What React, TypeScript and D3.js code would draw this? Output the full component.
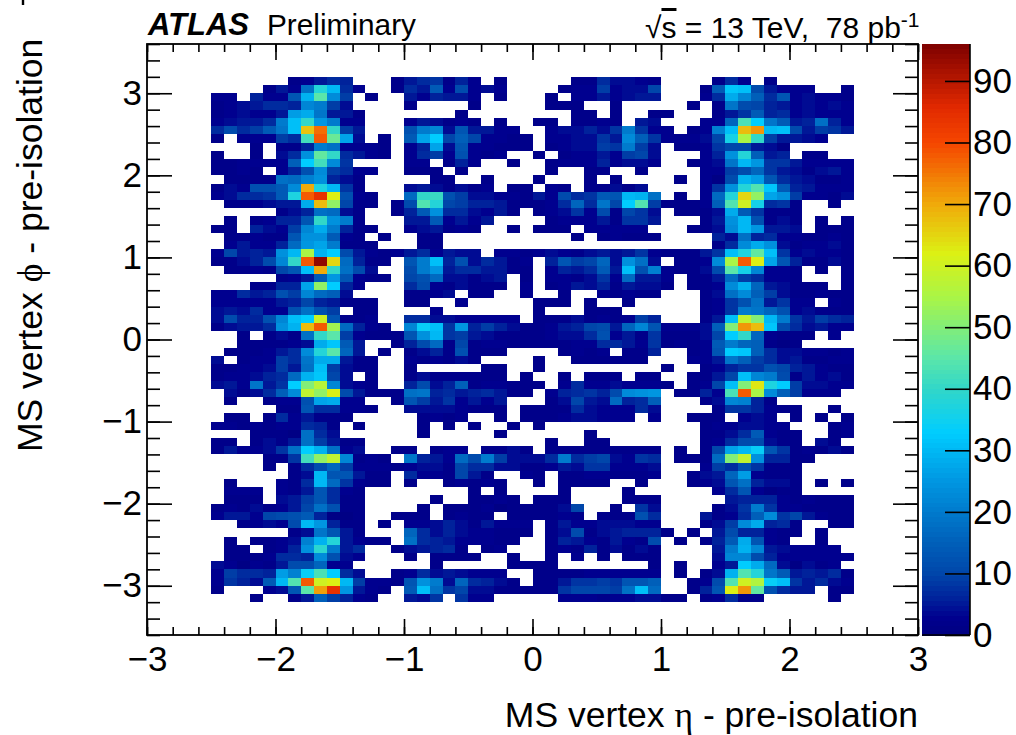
import * as d3 from "d3";
import {useEffect, useRef} from "react";

// event counts per bin, first row is the top one (phi 3.1..3.2), 50 eta bins per row, 0 = empty bin
const counts: number[][] = [
    [0,0,0,0,0,0,2,3,5,7,6,0,0,0,2, 5,7,8,2,6,3,0,2,0,0,0,0,0,2,2,7,4,4,3,2, 0,0,0,0,2,7,3,0,2,0,0,0,0,0,0],
    [0,0,0,0,2,5,3,18,38,30,7,3,0,0,2, 7,5,14,3,11,3,4,3,0,0,0,0,2,3,3,9,3,4,4,10, 0,0,0,2,14,32,31,11,5,3,3,3,0,0,2],
    [3,3,0,6,3,3,13,29,45,23,9,0,2,0,0, 5,3,6,5,5,3,0,2,0,0,0,2,0,3,3,5,3,4,5,5, 0,0,0,3,7,28,22,15,7,13,3,4,3,3,2],
    [2,3,4,5,7,7,6,22,20,9,4,0,0,0,0, 2,0,0,0,0,2,0,0,0,0,0,2,2,2,0,0,2,0,0,0, 0,0,2,0,2,19,11,10,6,5,3,4,3,4,3],
    [2,3,4,3,3,5,26,28,19,5,5,2,0,0,0, 0,0,0,0,2,0,0,0,0,0,0,0,0,2,2,0,2,0,0,2, 2,0,0,0,2,5,8,14,6,7,3,4,3,3,3],
    [3,4,5,5,7,20,31,40,25,20,3,3,0,0,0, 3,5,4,2,3,2,0,2,0,0,2,2,0,2,2,3,2,0,5,4, 0,0,0,3,3,16,43,33,19,14,5,6,18,6,3],
    [7,11,7,9,14,19,31,67,76,40,9,5,0,0,0, 12,20,22,4,13,5,5,3,3,0,0,3,4,4,6,4,8,20,8,3, 3,0,2,3,21,31,68,72,30,31,11,5,9,8,5],
    [2,0,3,3,3,9,7,42,78,47,27,4,0,2,0, 14,27,33,10,15,10,3,3,2,2,0,3,3,4,4,8,5,23,15,8, 3,3,3,4,10,36,55,40,9,5,5,4,3,0,0],
    [0,0,0,2,0,2,2,6,20,18,3,3,3,2,0, 3,6,27,4,13,3,3,2,2,2,0,2,3,4,4,9,8,20,9,4, 0,2,2,3,8,10,10,5,4,1,0,0,0,0,0],
    [2,0,0,2,0,4,7,24,46,40,7,5,3,2,0, 3,7,9,3,12,3,2,3,0,0,2,0,2,3,3,5,3,9,10,4, 0,0,0,3,6,24,38,15,5,6,0,2,2,0,0],
    [2,2,3,3,3,3,15,33,42,23,8,0,0,0,0, 3,3,0,2,6,3,0,0,2,0,0,2,3,3,3,6,3,4,4,3, 0,0,2,3,4,19,30,25,8,8,5,3,3,3,3],
    [2,2,3,2,0,3,6,12,23,9,7,3,3,0,0, 2,2,2,0,2,0,0,0,0,0,0,2,0,0,2,2,0,0,2,0, 0,0,0,3,3,9,11,16,8,5,4,2,4,5,3],
    [0,2,2,2,2,18,17,21,24,6,4,2,0,0,0, 0,0,2,2,0,0,2,0,0,0,2,0,0,0,2,0,2,0,0,0, 0,2,0,3,1,11,29,26,13,7,5,4,2,2,3],
    [2,4,3,12,12,14,23,70,37,30,8,2,0,0,0, 4,5,4,2,4,2,3,0,2,2,0,3,2,0,2,2,4,2,4,0, 0,0,0,3,8,24,38,44,32,14,6,5,3,3,3],
    [3,4,7,7,8,14,37,78,84,62,12,3,2,0,0, 17,40,41,12,9,4,4,3,3,2,5,3,11,7,8,14,13,30,29,18, 0,2,0,3,17,38,65,52,27,24,9,3,3,2,4],
    [0,2,2,3,4,5,5,28,68,52,10,2,2,0,2, 11,44,38,10,9,6,6,5,2,2,2,3,7,16,7,19,10,33,44,9, 2,2,2,3,15,44,60,36,7,8,2,0,0,2,0],
    [0,0,0,0,0,2,4,6,18,17,4,2,0,0,2, 6,14,24,7,7,4,3,5,2,0,2,3,4,8,3,11,2,10,8,4, 0,2,2,2,4,28,14,8,2,2,2,0,0,0,0],
    [0,2,0,2,3,6,6,13,40,24,20,2,0,0,0, 5,5,14,3,5,3,5,0,0,0,0,2,3,3,3,5,2,8,8,5, 0,0,0,2,5,24,30,12,2,4,2,0,2,0,2],
    [2,2,0,6,4,3,9,22,28,20,6,2,2,0,0, 3,4,5,2,3,2,0,0,2,0,2,2,2,0,3,3,3,3,3,0, 0,0,2,2,4,23,30,25,5,5,4,0,2,2,2],
    [0,2,2,3,2,2,13,24,24,14,3,2,0,2,0, 0,2,2,0,0,0,0,0,0,0,0,0,0,2,0,2,3,2,2,2, 0,0,0,0,6,4,18,6,7,3,3,2,2,3,2],
    [0,3,5,3,3,6,17,25,27,20,2,2,2,0,0, 0,2,2,0,0,0,0,0,0,0,0,0,0,0,0,0,0,0,0,0, 0,0,0,0,2,7,23,28,24,4,2,3,3,4,2],
    [3,10,5,6,5,24,30,55,29,33,11,5,3,2,3, 5,7,3,5,4,4,0,3,3,2,3,4,3,2,4,5,4,5,8,3, 2,2,2,5,8,31,37,46,31,8,3,4,3,3,2],
    [2,2,4,6,11,22,40,78,94,65,17,6,2,2,0, 13,20,31,6,12,4,7,5,2,3,0,6,13,9,10,16,4,24,18,4, 0,2,2,3,23,55,78,62,27,13,6,2,2,4,2],
    [0,2,2,3,2,10,13,31,70,40,18,11,4,0,0, 11,20,25,5,7,7,5,5,2,2,0,3,6,5,7,14,5,31,12,21, 3,2,2,4,11,45,36,22,3,3,2,0,2,0,2],
    [0,0,0,0,0,2,3,5,14,25,13,3,2,2,0, 10,12,17,4,4,2,4,5,0,2,0,3,3,2,4,8,3,17,5,5, 3,0,2,2,5,17,9,7,3,3,2,0,0,0,2],
    [0,0,0,2,2,6,6,27,52,33,6,3,0,0,0, 7,11,3,2,4,2,2,2,0,3,0,2,3,5,4,6,2,5,4,4, 2,0,2,2,3,23,29,16,5,4,2,2,2,0,2],
    [3,3,7,5,6,12,9,22,17,15,4,0,0,0,0, 2,2,3,4,0,2,2,0,0,3,0,0,2,0,0,3,2,3,2,2, 0,0,0,2,4,18,23,15,9,4,2,2,3,2,2],
    [3,3,3,3,3,5,6,10,6,5,2,2,2,0,0, 2,2,0,0,3,0,0,0,0,0,2,2,2,0,2,0,0,2,0,0, 0,0,0,2,3,8,12,18,5,8,3,3,0,3,2],
    [4,5,4,7,3,3,12,18,12,9,0,2,2,0,0, 0,0,3,0,0,0,0,0,0,0,2,0,0,0,2,2,2,0,0,0, 0,0,0,2,3,8,20,19,16,12,3,4,2,2,2],
    [4,11,6,6,12,22,31,33,60,13,2,2,3,0,0, 7,7,4,4,3,3,3,3,3,0,2,2,2,4,2,3,2,3,9,6, 0,0,0,2,5,31,58,50,30,20,8,5,9,7,6],
    [2,4,5,5,7,24,29,68,78,54,17,6,3,2,0, 22,34,31,8,25,6,9,6,4,2,2,3,5,6,10,11,5,16,22,13, 3,3,3,4,15,50,72,68,32,11,7,4,5,3,3],
    [0,0,2,0,2,4,2,18,40,45,9,3,2,2,2, 13,24,30,8,9,5,4,2,2,2,2,3,4,4,7,12,3,5,2,8, 2,2,2,4,10,33,40,16,3,2,2,2,0,3,0],
    [0,0,2,2,2,2,3,4,28,32,14,5,0,0,2, 6,11,17,2,10,2,3,3,2,2,2,2,2,3,3,7,7,5,3,8, 2,3,2,3,14,20,16,15,2,1,2,0,0,0,0],
    [0,2,2,2,3,5,7,23,38,45,16,5,0,2,0, 2,4,6,2,12,2,2,2,0,0,0,0,2,3,2,3,0,2,2,6, 0,0,2,3,13,33,32,15,7,4,4,3,3,2,3],
    [4,0,2,3,3,9,7,19,28,28,5,2,2,0,0, 3,2,3,2,4,2,0,0,0,0,2,0,0,2,2,2,2,2,2,0, 0,0,3,3,5,19,15,9,7,4,5,2,2,3,3],
    [2,2,3,3,4,9,5,18,31,9,4,2,2,0,0, 2,0,0,0,0,0,2,2,0,0,2,0,0,0,0,0,0,0,0,0, 2,0,0,2,3,6,8,8,12,10,6,5,3,2,2],
    [2,3,3,4,6,7,17,29,32,10,4,0,2,0,0, 2,4,2,2,2,2,2,2,0,2,0,0,2,0,2,2,2,0,2,2, 0,0,2,2,5,10,31,22,20,11,2,5,3,4,2],
    [4,5,3,19,5,8,33,50,57,22,4,3,2,0,0, 6,11,4,6,15,2,3,3,2,2,2,0,3,7,3,3,4,3,3,3, 2,0,2,3,10,31,50,63,37,33,9,4,4,3,3],
    [0,4,2,4,7,15,23,58,52,62,11,5,2,2,2, 18,19,6,7,5,6,7,5,2,2,0,3,6,7,8,6,11,23,24,25, 0,2,2,6,3,43,78,55,23,15,9,3,3,3,0],
    [0,2,0,0,2,3,3,12,27,28,3,3,0,0,2, 13,9,5,8,3,5,3,5,0,0,0,2,4,10,5,4,17,6,7,15, 0,0,0,2,4,22,21,6,2,0,0,0,0,0,0],
    [0,0,0,0,0,2,2,13,7,7,3,3,2,0,0, 4,4,4,4,3,2,2,2,0,2,2,2,2,7,4,3,3,3,7,4, 0,0,0,0,2,8,8,6,3,2,2,0,0,2,0],
    [0,2,2,0,2,7,3,5,2,2,2,0,0,0,0, 0,2,3,2,3,0,0,2,0,2,2,2,3,4,4,3,3,3,0,3, 0,0,2,2,2,0,3,4,3,0,2,0,2,0,2],
    [3,3,2,3,2,3,3,7,6,2,0,2,0,0,0, 0,2,0,2,0,2,0,0,2,0,2,0,0,0,0,0,0,0,0,0, 0,0,0,2,3,3,4,4,3,3,0,0,0,2,3],
    [0,0,0,2,2,2,1,18,7,4,0,0,0,0,0, 0,2,0,0,0,0,0,2,0,0,0,0,0,0,2,0,0,0,0,0, 0,0,0,2,2,4,7,14,3,2,2,0,0,2,3],
    [2,2,0,2,4,2,5,18,9,5,2,2,0,0,0, 0,0,0,0,0,0,0,0,0,0,0,2,0,0,2,2,0,0,0,0, 0,0,0,2,3,7,11,11,4,2,2,0,4,2,0],
    [2,5,3,3,4,8,18,33,29,18,3,4,0,0,2, 2,0,2,3,3,0,2,2,4,2,0,2,2,2,2,2,2,2,2,2, 0,2,0,2,10,27,30,34,13,8,2,3,2,4,2],
    [0,0,0,0,2,2,8,42,52,58,22,2,3,2,0, 19,6,5,3,17,11,20,9,4,4,4,7,20,7,9,10,4,3,8,7, 0,2,2,2,17,50,58,24,6,6,2,2,0,0,0],
    [0,0,0,0,2,0,2,7,11,16,9,3,3,3,2, 3,4,4,2,10,7,7,4,4,2,2,3,5,4,8,8,3,3,3,4, 0,0,0,3,9,7,12,8,2,2,2,0,0,0,0],
    [0,0,0,0,0,0,2,4,30,13,13,5,2,2,0, 7,3,3,2,10,5,2,0,0,3,2,0,2,2,3,3,2,2,2,3, 0,0,2,4,5,16,26,3,2,2,2,0,0,0,0],
    [0,2,0,0,0,3,2,7,30,17,8,3,2,2,0, 2,0,0,2,3,2,3,2,0,0,2,0,2,2,2,2,0,0,2,0, 0,0,2,3,4,13,18,6,4,4,2,0,2,0,2],
    [0,3,3,3,0,3,2,5,13,7,3,2,0,0,0, 0,0,0,0,0,2,0,2,0,0,0,0,2,0,0,0,0,2,0,0, 0,0,0,0,3,7,13,3,1,2,2,0,0,0,0],
    [0,2,2,2,0,4,5,9,13,7,2,2,0,0,0, 0,0,2,0,0,2,2,3,2,0,2,2,2,0,0,0,0,2,2,2, 0,0,0,0,0,5,6,6,6,3,2,3,2,2,2],
    [2,3,2,4,2,3,5,10,18,12,2,2,0,0,0, 0,2,0,2,2,2,3,1,2,2,2,2,4,10,0,0,2,0,8,4, 0,0,0,0,2,4,8,20,8,3,3,2,2,2,2],
    [3,5,5,3,10,11,12,14,6,1,1,2,0,0,2, 2,2,0,2,3,2,2,0,2,2,2,2,3,2,0,2,2,2,12,7, 0,0,0,5,2,3,7,15,23,8,10,5,3,2,2],
    [0,0,2,3,4,3,11,30,25,6,2,2,0,2,0, 3,3,4,6,4,2,5,3,3,3,0,2,5,3,3,4,4,4,3,3, 0,0,0,2,4,9,23,28,6,7,2,0,0,2,2],
    [0,0,0,0,0,0,2,4,19,13,5,2,0,0,0, 16,7,4,6,4,3,3,2,2,2,0,2,4,11,2,4,5,6,6,6, 2,0,2,0,5,11,6,6,3,2,2,0,2,0,0],
    [0,2,0,2,2,3,4,21,29,38,5,3,2,2,0, 18,7,6,5,3,3,3,2,2,0,0,2,6,5,3,2,5,3,2,11, 0,2,0,2,6,14,28,13,3,2,0,0,2,0,0],
    [0,2,2,0,2,3,6,24,39,20,5,7,0,0,2, 4,5,6,7,2,0,2,3,0,0,0,2,3,2,6,2,4,2,4,2, 0,0,0,0,5,20,29,22,5,4,3,3,3,3,0],
    [0,2,2,2,3,7,7,6,23,12,4,3,0,0,0, 2,0,2,2,2,2,0,0,2,0,0,2,0,3,0,2,0,2,2,2, 0,0,0,0,4,22,22,11,6,3,3,3,3,3,3],
    [4,3,1,3,2,5,11,11,16,3,3,0,0,0,0, 0,0,2,0,0,0,0,0,2,2,2,2,0,0,0,0,0,0,0,2, 0,2,0,0,3,5,33,28,17,4,1,4,2,3,0],
    [3,9,7,7,6,26,21,34,43,33,7,4,0,0,2, 3,7,4,5,4,3,3,3,0,0,2,2,2,2,3,3,3,3,3,3, 0,2,0,2,4,29,44,38,19,14,5,6,5,7,2],
    [3,8,6,4,14,30,44,78,60,62,30,9,3,3,2, 13,24,20,4,16,7,6,4,2,0,2,2,5,8,8,9,8,13,13,15, 0,0,2,3,11,44,60,56,34,31,8,5,7,4,3],
    [2,0,0,0,3,4,13,45,71,84,25,5,3,2,0, 14,31,18,8,10,4,4,2,2,2,2,2,8,10,10,10,9,18,31,17, 0,0,2,6,13,62,72,46,12,7,5,5,0,2,2],
    [0,0,0,2,0,0,2,5,15,9,6,3,2,0,0, 5,4,8,0,8,3,3,0,0,0,0,0,3,3,3,2,3,3,4,4, 2,2,0,2,3,7,2,2,0,0,0,0,0,2,0],
];

const xTicks = [-3, -2, -1, 0, 1, 2, 3];
const yTicks = [-3, -2, -1, 0, 1, 2, 3];
const zTicks = [0, 10, 20, 30, 40, 50, 60, 70, 80, 90];

// colour stops
const paletteValues = [0, 3, 6, 10, 15, 25, 33, 40, 45, 55, 62, 70, 80, 86, 96];
const paletteColors = ["#000080", "#00008f", "#00229b", "#0046aa", "#005fb9", "#0096e1", "#00cdff", "#32d7c8", "#5ae6aa", "#aaf546", "#dcf014", "#f0aa0a", "#f54600", "#e02800", "#7d0000"];

const W = 1016, H = 735;
const FONT = "'Liberation Sans', Arial, sans-serif";
const frame = {left: 147, right: 918, top: 44, bottom: 635};
const bar = {left: 922, right: 970};

export default function App() {
    const ref = useRef<SVGSVGElement>(null);

    useEffect(() => {
        const svg = d3.select(ref.current);
        svg.selectAll("*").remove();

        const x = d3.scaleLinear().domain([-3, 3]).range([frame.left, frame.right]);
        const y = d3.scaleLinear().domain([-3.6, 3.6]).range([frame.bottom, frame.top]);
        const z = d3.scaleLinear().domain([0, 96]).range([frame.bottom, frame.top]);
        const color = d3.scaleLinear<string>().domain(paletteValues).range(paletteColors).interpolate(d3.interpolateRgb);
        const intFormat = d3.format("d");

        // heat map cells
        const cells = counts.flatMap((row, r) => row.map((v, c) => ({
            eta: -2.5 + c * 0.1,
            phi: 3.2 - r * 0.1,
            v,
        }))).filter(d => d.v > 0);

        svg.append("g")
            .attr("shape-rendering", "crispEdges")
            .selectAll("rect")
            .data(cells)
            .join("rect")
            .attr("x", d => x(d.eta))
            .attr("y", d => y(d.phi))
            .attr("width", d => x(d.eta + 0.1) - x(d.eta))
            .attr("height", d => y(d.phi - 0.1) - y(d.phi))
            .attr("fill", d => color(d.v));

        // ticks on all four sides, long ones labelled at the bottom and left
        const xMinor = d3.range(-3, 3.01, 0.2).map(d => +d.toFixed(1));
        const yMinor = d3.range(-3.6, 3.61, 0.2).map(d => +d.toFixed(1));
        const tickStyle = (g: any, size = 35) => {
            g.select(".domain").remove();
            g.selectAll("line").attr("stroke", "#000").attr("stroke-width", 1.6);
            g.selectAll("text").attr("font-family", FONT).attr("font-size", size).attr("fill", "#000");
        };

        const axes: [any, string, number[], number, boolean][] = [
            [d3.axisBottom(x), `translate(0,${frame.bottom})`, xTicks, -16, true],
            [d3.axisBottom(x), `translate(0,${frame.bottom})`, xMinor, -8, false],
            [d3.axisTop(x), `translate(0,${frame.top})`, xTicks, -16, false],
            [d3.axisTop(x), `translate(0,${frame.top})`, xMinor, -8, false],
        ];
        axes.forEach(([axis, t, vals, size, labelled]) => {
            const a = axis.tickValues(vals).tickSizeOuter(0).tickSizeInner(size).tickPadding(labelled ? 11 : 0);
            a.tickFormat(labelled ? intFormat : () => "");
            const g = svg.append("g").attr("transform", t).call(a);
            tickStyle(g);
        });

        const yAxes: [any, string, number[], number, boolean][] = [
            [d3.axisLeft(y), `translate(${frame.left},0)`, yTicks, -25, true],
            [d3.axisLeft(y), `translate(${frame.left},0)`, yMinor, -13, false],
            [d3.axisRight(y), `translate(${frame.right},0)`, yTicks, -25, false],
            [d3.axisRight(y), `translate(${frame.right},0)`, yMinor, -13, false],
        ];
        yAxes.forEach(([axis, t, vals, size, labelled]) => {
            const a = axis.tickValues(vals).tickSizeOuter(0).tickSizeInner(size).tickPadding(labelled ? 5 : 0);
            a.tickFormat(labelled ? intFormat : () => "");
            const g = svg.append("g").attr("transform", t).call(a);
            tickStyle(g);
        });

        svg.append("rect")
            .attr("x", frame.left).attr("y", frame.top)
            .attr("width", frame.right - frame.left).attr("height", frame.bottom - frame.top)
            .attr("fill", "none").attr("stroke", "#000").attr("stroke-width", 1.8);

        // colour bar
        const steps = d3.range(0, 96, 96 / 120);
        svg.append("g")
            .attr("shape-rendering", "crispEdges")
            .selectAll("rect")
            .data(steps)
            .join("rect")
            .attr("x", bar.left)
            .attr("y", d => z(d + 96 / 120))
            .attr("width", bar.right - bar.left)
            .attr("height", d => z(d) - z(d + 96 / 120) + 0.5)
            .attr("fill", d => color(d + 96 / 240));

        const zAxis = d3.axisRight(z).tickValues(zTicks).tickSizeOuter(0).tickSizeInner(-25).tickPadding(3);
        const zg = svg.append("g").attr("transform", `translate(${bar.right},0)`).call(zAxis);
        tickStyle(zg);
        svg.append("line").attr("x1", bar.right).attr("x2", bar.right)
            .attr("y1", frame.top).attr("y2", frame.bottom).attr("stroke", "#000").attr("stroke-width", 1.6);
        svg.append("line").attr("x1", bar.left).attr("x2", bar.right)
            .attr("y1", frame.bottom).attr("y2", frame.bottom).attr("stroke", "#000").attr("stroke-width", 1.4);

        // axis titles
        const xTitle = svg.append("text")
            .attr("x", frame.right).attr("y", 727).attr("text-anchor", "end")
            .attr("font-family", FONT).attr("font-size", 35.5);
        xTitle.append("tspan").text("MS vertex ");
        xTitle.append("tspan").attr("font-family", "'Liberation Serif', serif").text("η");
        xTitle.append("tspan").text(" - pre-isolation");

        const yTitle = svg.append("text")
            .attr("transform", "translate(42,452) rotate(-90)")
            .attr("font-family", FONT).attr("font-size", 35.5);
        yTitle.append("tspan").text("MS vertex ");
        yTitle.append("tspan").attr("font-family", "'Liberation Serif', serif").text("ϕ");
        yTitle.append("tspan").text(" - pre-isolation");

        // clipped stub above the y title
        svg.append("line").attr("x1", 23).attr("x2", 23).attr("y1", 0).attr("y2", 5)
            .attr("stroke", "#000").attr("stroke-width", 2.4);

        // labels above the frame
        svg.append("text").attr("x", 148).attr("y", 35)
            .attr("font-family", FONT).attr("font-size", 31)
            .attr("font-weight", "bold").attr("font-style", "italic").text("ATLAS");
        svg.append("text").attr("x", 267).attr("y", 35)
            .attr("font-family", FONT).attr("font-size", 29.8).text("Preliminary");

        const lumi = svg.append("text").attr("x", 645).attr("y", 38)
            .attr("font-family", FONT).attr("font-size", 30).style("white-space", "pre");
        lumi.append("tspan").text("√");
        lumi.append("tspan").attr("text-decoration", "overline").text("s");
        lumi.append("tspan").text(" = 13 TeV,  78 pb");
        lumi.append("tspan").attr("dy", -11).attr("font-size", 21).text("-1");
    }, []);

    return <svg ref={ref} width={W} height={H} style={{position: "absolute", left: 0, top: 0, background: "#fff"}}/>;
}
